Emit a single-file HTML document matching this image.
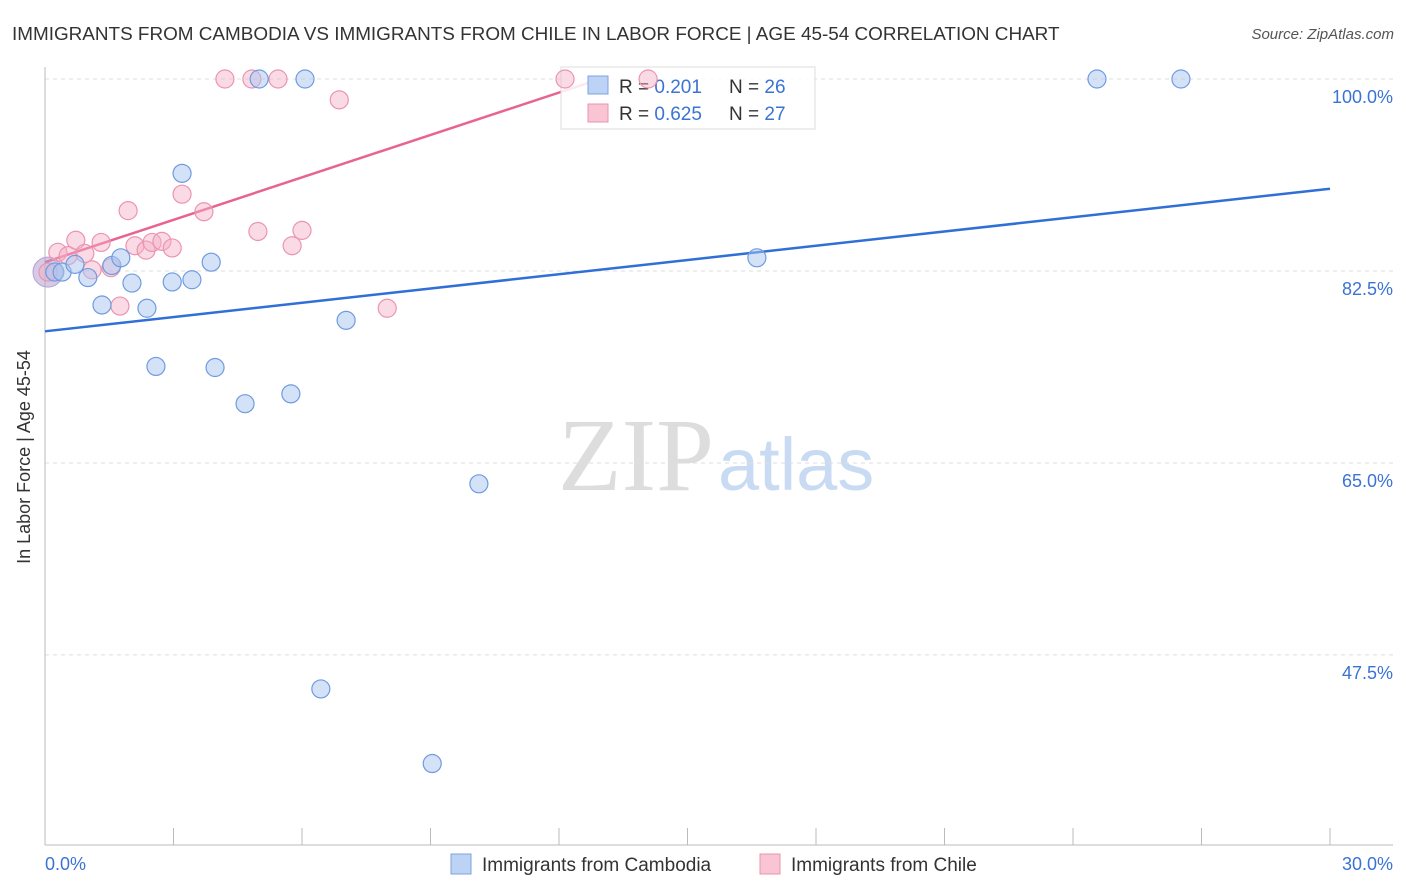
<!DOCTYPE html>
<html><head><meta charset="utf-8"><style>
body{margin:0;background:#fff;font-family:"Liberation Sans",sans-serif}
svg{display:block}
</style></head><body>
<svg id="chart" width="1406" height="892">
<text x="12" y="40" font-size="18.9" fill="#333">IMMIGRANTS FROM CAMBODIA VS IMMIGRANTS FROM CHILE IN LABOR FORCE | AGE 45-54 CORRELATION CHART</text>
<text x="1394" y="39" font-size="15" fill="#555" font-style="italic" text-anchor="end">Source: ZipAtlas.com</text>
<text x="714" y="490" font-size="104" fill="#ddd" text-anchor="end" font-family="Liberation Serif,serif">ZIP</text>
<text x="718" y="490" font-size="74" fill="#c9dbf3">atlas</text>
<g id="grid"></g>
<line x1="45" y1="67" x2="45" y2="845" stroke="#bbb"/>
<line x1="45" y1="845" x2="1393" y2="845" stroke="#bbb"/>
<g id="xticks"></g>
<text x="30" y="457" font-size="18" fill="#333" text-anchor="middle" transform="rotate(-90 30 457)">In Labor Force | Age 45-54</text>
<text x="45" y="870" font-size="18" fill="#3b73d4">0.0%</text>
<text x="1393" y="870" font-size="18" fill="#3b73d4" text-anchor="end">30.0%</text>
<g id="lines"></g>
<g>
<rect x="561" y="67" width="254" height="62" fill="#fff" fill-opacity="0.85" stroke="#ddd"/>
<rect x="588" y="76" width="20" height="18" fill="#bcd3f5" stroke="#7ba3e0"/>
<rect x="588" y="104" width="20" height="18" fill="#f9c5d5" stroke="#eb94b0"/>
<text x="619" y="93" font-size="19" fill="#333">R = <tspan fill="#3b73d4">0.201</tspan><tspan x="729">N = </tspan><tspan fill="#3b73d4">26</tspan></text>
<text x="619" y="120" font-size="19" fill="#333">R = <tspan fill="#3b73d4">0.625</tspan><tspan x="729">N = </tspan><tspan fill="#3b73d4">27</tspan></text>
</g>
<g id="points"></g>
<g>
<rect x="451" y="854" width="20" height="20" fill="#bcd3f5" stroke="#7ba3e0"/>
<text x="482" y="871" font-size="19" fill="#333">Immigrants from Cambodia</text>
<rect x="760" y="854" width="20" height="20" fill="#f9c5d5" stroke="#eb94b0"/>
<text x="791" y="871" font-size="19" fill="#333">Immigrants from Chile</text>
</g>
</svg>
<script>
const yTicks=[100,82.5,65,47.5];
const xTickVals=[0,3,6,9,12,15,18,21,24,27,30];
const cambX=[0.23,0.40,0.70,1.00,1.33,1.56,1.77,2.03,2.38,2.59,2.97,3.20,3.43,3.88,3.97,4.67,5.00,5.74,6.07,6.44,7.03,9.04,10.13,16.62,24.56,26.52];
const cambY=[82.4,82.4,83.1,81.9,79.4,83.0,83.7,81.4,79.1,73.8,81.5,91.4,81.7,83.3,73.7,70.4,100,71.3,100,44.4,78.0,37.6,63.1,83.7,100,100];
const chileX=[0.07,0.30,0.54,0.72,0.93,1.10,1.31,1.54,1.75,1.94,2.10,2.36,2.50,2.73,2.97,3.20,3.71,4.20,4.83,4.97,5.44,5.77,6.00,6.87,7.99,12.14,14.08];
const chileY=[82.4,84.2,83.9,85.3,84.1,82.6,85.1,82.8,79.3,88.0,84.8,84.4,85.1,85.2,84.6,89.5,87.9,100,100,86.1,100,84.8,86.2,98.1,79.1,100,100];
const cambTrend=[77.0,90.0];
const chileTrend=[83.3,100.0,12.96];
const NS="http://www.w3.org/2000/svg";
const sx=v=>45+v*(1285/30);
const sy=v=>79+(100-v)*10.97;
function mk(tag,attrs,parent){const e=document.createElementNS(NS,tag);for(const k in attrs)e.setAttribute(k,attrs[k]);document.getElementById(parent).appendChild(e);return e;}
yTicks.forEach(t=>{
 const l=mk('line',{x1:45,x2:1393,y1:sy(t),y2:sy(t),stroke:'#ddd','stroke-dasharray':'4,4'},'grid');
 
 
 const tx=mk('text',{x:1393,y:sy(t)+24,'font-size':18,fill:'#3b73d4','text-anchor':'end'},'grid');
 tx.textContent=t.toFixed(1)+'%';
 
 
});
xTickVals.forEach(t=>{
 const l=mk('line',{x1:sx(t),x2:sx(t),y1:828,y2:845,stroke:'#bbb'},'xticks');
 
 
});
const bl=mk('line',{x1:sx(0),y1:sy(cambTrend[0]),x2:sx(30),y2:sy(cambTrend[1]),stroke:'#2f6fd6','stroke-width':2.5},'lines');


const pl=mk('line',{x1:sx(0),y1:sy(chileTrend[0]),x2:sx(chileTrend[2]),y2:sy(chileTrend[1]),stroke:'#e8648e','stroke-width':2.5},'lines');


const big=mk('circle',{cx:sx(0.07),cy:sy(82.4),r:15,fill:'rgba(180,160,210,0.55)',stroke:'#b49fd6'},'points');


chileX.forEach((x,i)=>{
 const c=mk('circle',{cx:sx(x),cy:sy(chileY[i]),r:9,fill:'rgba(245,175,198,0.45)',stroke:'#eb94b0','stroke-width':1.2},'points');
 
 
});
cambX.forEach((x,i)=>{
 const c=mk('circle',{cx:sx(x),cy:sy(cambY[i]),r:9,fill:'rgba(169,198,240,0.5)',stroke:'#6f9be0','stroke-width':1.2},'points');
 
 
});
</script>
</body></html>
